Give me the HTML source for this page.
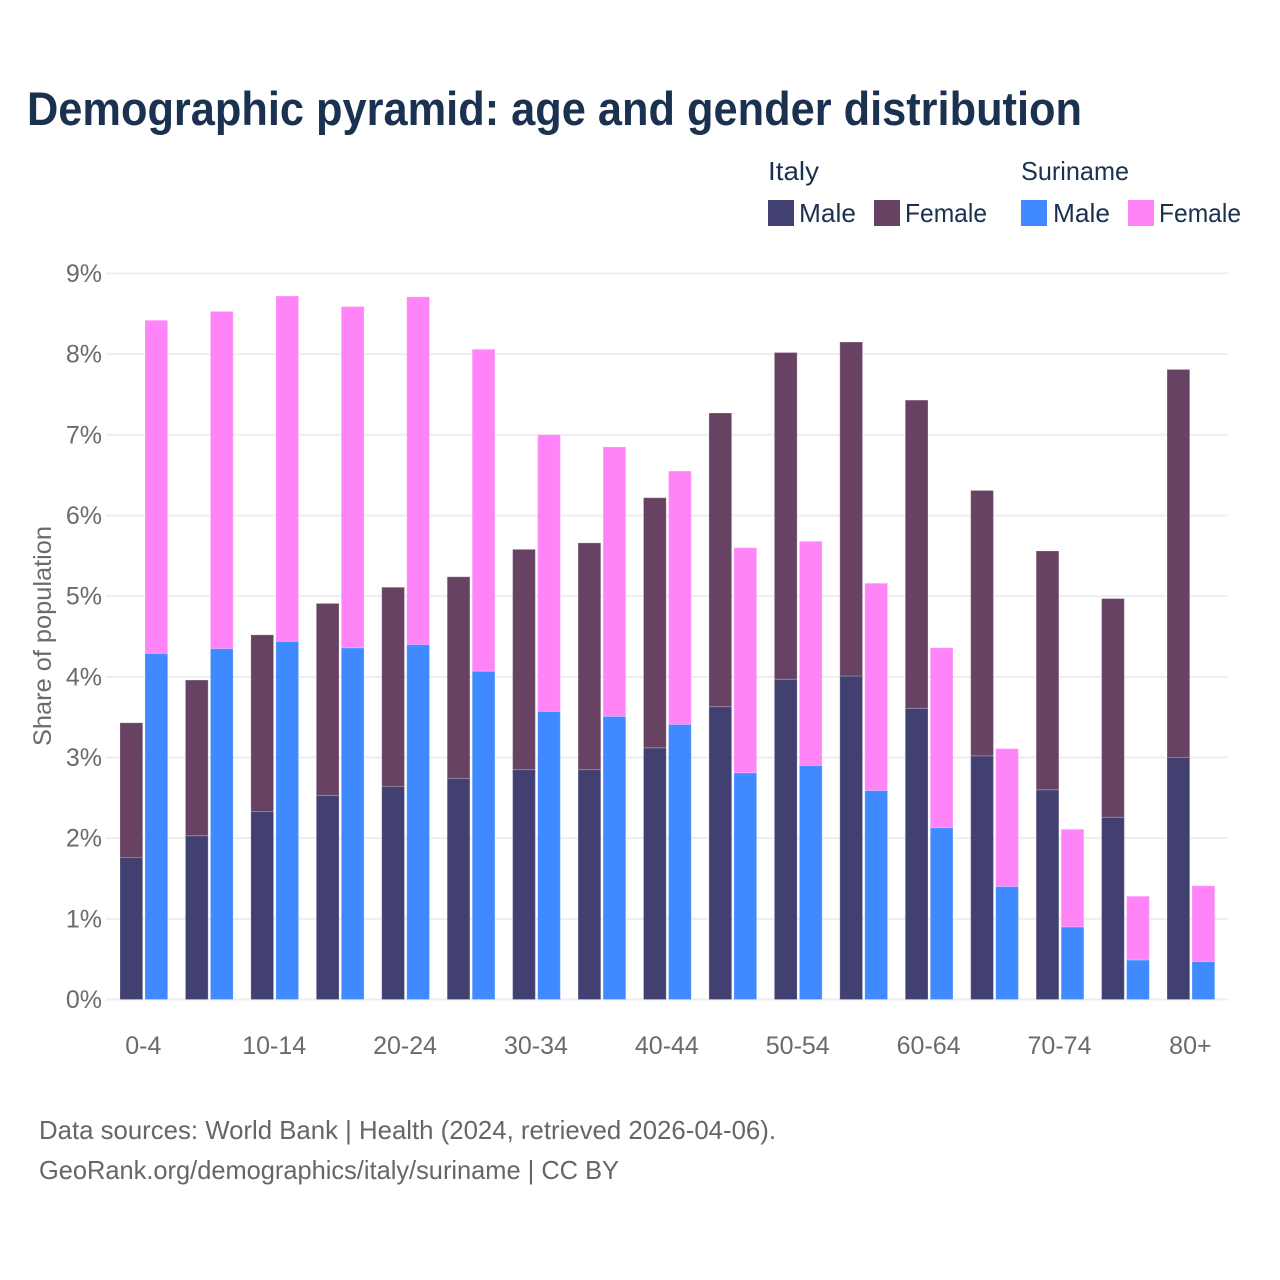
<!DOCTYPE html>
<html lang="en">
<head>
<meta charset="utf-8">
<title>Demographic pyramid: age and gender distribution</title>
<style>
  html, body { margin: 0; padding: 0; background: #ffffff; }
  svg { display: block; }
  text { font-family: "Liberation Sans", sans-serif; }
</style>
</head>
<body>
<svg id="chart" width="1280" height="1280" viewBox="0 0 1280 1280" xmlns="http://www.w3.org/2000/svg">
  <rect x="0" y="0" width="1280" height="1280" fill="#ffffff"/>
  <text x="27" y="125" font-size="47" font-weight="700" fill="#1a3150" textLength="1055" lengthAdjust="spacingAndGlyphs">Demographic pyramid: age and gender distribution</text>

  <g font-size="26" fill="#1a3150">
    <text x="768" y="180" textLength="51" lengthAdjust="spacingAndGlyphs">Italy</text>
    <text x="1021" y="180" textLength="108" lengthAdjust="spacingAndGlyphs">Suriname</text>
    <rect x="768" y="200" width="26" height="26" fill="#423f71"/>
    <text x="799" y="222" textLength="57" lengthAdjust="spacingAndGlyphs">Male</text>
    <rect x="874" y="200" width="26" height="26" fill="#674263"/>
    <text x="905" y="222" textLength="82" lengthAdjust="spacingAndGlyphs">Female</text>
    <rect x="1021" y="200" width="26" height="26" fill="#3f8aff"/>
    <text x="1053" y="222" textLength="57" lengthAdjust="spacingAndGlyphs">Male</text>
    <rect x="1128" y="200" width="26" height="26" fill="#ff84f8"/>
    <text x="1159" y="222" textLength="82" lengthAdjust="spacingAndGlyphs">Female</text>
  </g>

  <g id="grid"></g>
  <g id="y-ticks" font-size="25" fill="#6b6b6b" text-anchor="end"></g>
  <g id="bars"></g>
  <g id="x-ticks" font-size="25" fill="#6b6b6b" text-anchor="middle"></g>

  <text transform="translate(51,746) rotate(-90)" font-size="25" fill="#6b6b6b" textLength="220" lengthAdjust="spacingAndGlyphs">Share of population</text>

  <g font-size="26" fill="#666666">
    <text x="39" y="1139" textLength="737" lengthAdjust="spacingAndGlyphs">Data sources: World Bank | Health (2024, retrieved 2026-04-06).</text>
    <text x="39" y="1179" textLength="580" lengthAdjust="spacingAndGlyphs">GeoRank.org/demographics/italy/suriname | CC BY</text>
  </g>
</svg>
<script>
const ageGroups = ["0-4","5-9","10-14","15-19","20-24","25-29","30-34","35-39","40-44","45-49","50-54","55-59","60-64","65-69","70-74","75-79","80+"];
const xTickLabels = ["0-4","10-14","20-24","30-34","40-44","50-54","60-64","70-74","80+"];
const yTickValues = [0,1,2,3,4,5,6,7,8,9];
const italyMale = [1.76,2.03,2.33,2.53,2.64,2.74,2.85,2.85,3.12,3.63,3.97,4.01,3.61,3.02,2.60,2.26,3.00];
const italyFemale = [1.67,1.93,2.19,2.38,2.47,2.50,2.73,2.81,3.10,3.64,4.05,4.14,3.82,3.29,2.96,2.71,4.81];
const surinameMale = [4.29,4.35,4.44,4.36,4.40,4.07,3.57,3.51,3.41,2.81,2.90,2.59,2.13,1.40,0.90,0.49,0.47];
const surinameFemale = [4.13,4.18,4.28,4.23,4.31,3.99,3.43,3.34,3.14,2.79,2.78,2.57,2.23,1.71,1.21,0.79,0.94];

const SVG_NS = "http://www.w3.org/2000/svg";
const BASE_Y = 999.5;
const PX_PER_UNIT = 80.67;
const FIRST_BAR_X = 120;
const GROUP_STEP = 65.44;
const BAR_WIDTH = 22.7;
const BAR_GAP = 2.3;

function yScale(v) { return BASE_Y - v * PX_PER_UNIT; }
function xScale(i) { return FIRST_BAR_X + i * GROUP_STEP; }
function slug(s) { return s.replace(/\+/g, "-plus"); }

const gridLayer = document.getElementById("grid");
const yTickLayer = document.getElementById("y-ticks");
const barLayer = document.getElementById("bars");
const xTickLayer = document.getElementById("x-ticks");

yTickValues.forEach(function (v) {
  const line = document.createElementNS(SVG_NS, "line");
  
  
  line.setAttribute("x1", 106);
  line.setAttribute("x2", 1228);
  line.setAttribute("y1", yScale(v));
  line.setAttribute("y2", yScale(v));
  line.setAttribute("stroke", "#eeeef2");
  line.setAttribute("stroke-width", 2);
  gridLayer.appendChild(line);

  const label = document.createElementNS(SVG_NS, "text");
  
  
  label.setAttribute("x", 102);
  label.setAttribute("y", yScale(v) + 8.5);
  label.textContent = v + "%";
  yTickLayer.appendChild(label);
});

function drawBar(name, x, lower, value, fill) {
  const top = yScale(lower + value);
  const rect = document.createElementNS(SVG_NS, "rect");
  
  
  rect.setAttribute("x", x);
  rect.setAttribute("y", top);
  rect.setAttribute("width", BAR_WIDTH);
  rect.setAttribute("height", yScale(lower) - top);
  rect.setAttribute("fill", fill);
  rect.setAttribute("stroke", "#ffffff");
  rect.setAttribute("stroke-opacity", "0.22");
  rect.setAttribute("stroke-width", 1);
  barLayer.appendChild(rect);
}

ageGroups.forEach(function (age, i) {
  const xItaly = xScale(i);
  const xSuriname = xItaly + BAR_WIDTH + BAR_GAP;
  const key = slug(age);
  drawBar("bar-italy-male-" + key, xItaly, 0, italyMale[i], "#423f71");
  drawBar("bar-italy-female-" + key, xItaly, italyMale[i], italyFemale[i], "#674263");
  drawBar("bar-suriname-male-" + key, xSuriname, 0, surinameMale[i], "#3f8aff");
  drawBar("bar-suriname-female-" + key, xSuriname, surinameMale[i], surinameFemale[i], "#ff84f8");
});

xTickLabels.forEach(function (labelText) {
  const i = ageGroups.indexOf(labelText);
  const label = document.createElementNS(SVG_NS, "text");
  
  
  label.setAttribute("x", xScale(i) + BAR_WIDTH + BAR_GAP / 2 - 0.5);
  label.setAttribute("y", 1054);
  label.textContent = labelText;
  xTickLayer.appendChild(label);
});
</script>
</body>
</html>
